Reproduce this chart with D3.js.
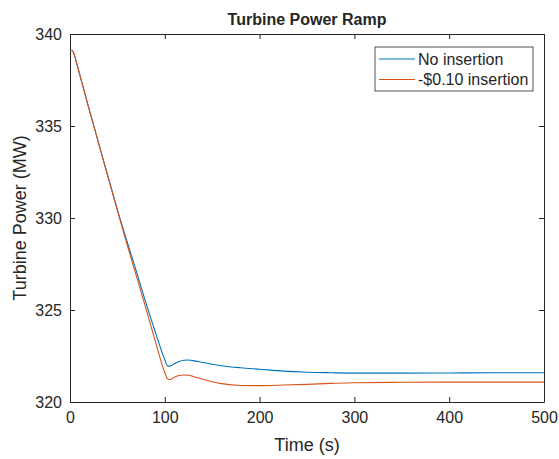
<!DOCTYPE html>
<html>
<head>
<meta charset="utf-8">
<script src="https://cdn.jsdelivr.net/npm/d3@7"></script>
<style>
  body { margin: 0; background: #fff; }
  text { font-family: "Liberation Sans", Arial, sans-serif; fill: #262626; }
</style>
</head>
<body>
<div id="chart"></div>
<script>
// time samples (s)
const time = [0, 2, 4, 6, 10, 20, 30, 40, 50, 60, 70, 80, 90, 100, 103, 106, 110, 115, 120, 125, 130, 140, 150, 160, 180, 200, 225, 250, 275, 300, 350, 400, 450, 500];
// turbine power (MW), no insertion
const noInsertion = [339.08, 339.1, 338.95, 338.6, 337.85, 335.95, 334.1, 332.27, 330.45, 328.75, 327.1, 325.4, 323.8, 322.3, 321.95, 321.96, 322.08, 322.2, 322.27, 322.28, 322.25, 322.15, 322.05, 321.97, 321.86, 321.78, 321.68, 321.62, 321.59, 321.57, 321.57, 321.58, 321.59, 321.59];
// turbine power (MW), -$0.10 insertion
const withInsertion = [339.08, 339.1, 338.95, 338.6, 337.85, 335.95, 334.1, 332.25, 330.4, 328.6, 326.85, 325.1, 323.3, 321.6, 321.25, 321.22, 321.35, 321.44, 321.47, 321.45, 321.39, 321.24, 321.1, 321.0, 320.9, 320.89, 320.92, 320.96, 321.01, 321.05, 321.07, 321.08, 321.08, 321.08];

const xTicks = [0, 100, 200, 300, 400, 500];
const yTicks = [320, 325, 330, 335, 340];
const seriesNames = ["No insertion", "-$0.10 insertion"];
const colors = ["#0072BD", "#D95319"];

const W = 559, H = 459;
const margin = { top: 34, right: 15, bottom: 57, left: 70 };
const width = W - margin.left - margin.right;
const height = H - margin.top - margin.bottom;

const svg = d3.select("#chart").append("svg")
  .attr("width", W).attr("height", H);

const g = svg.append("g")
  .attr("transform", `translate(${margin.left},${margin.top})`);

const x = d3.scaleLinear().domain([0, 500]).range([0, width]);
const y = d3.scaleLinear().domain([320, 340]).range([height, 0]);

// axes, ticks pointing inward like matlab
const axisStyle = sel => {
  sel.select(".domain").attr("stroke", "#262626").attr("stroke-width", 1);
  sel.selectAll(".tick line").attr("stroke", "#262626");
  sel.selectAll(".tick text").style("font-size", "16px").attr("fill", "#262626");
};

g.append("g")
  .attr("transform", `translate(0,${height})`)
  .call(d3.axisBottom(x).tickValues(xTicks).tickSize(-5).tickSizeOuter(0).tickPadding(10))
  .call(axisStyle);

g.append("g")
  .call(d3.axisLeft(y).tickValues(yTicks).tickSize(-5).tickSizeOuter(0).tickPadding(8))
  .call(axisStyle);

// mirrored top and right axes
g.append("g")
  .call(d3.axisTop(x).tickValues(xTicks).tickSize(-5).tickSizeOuter(0).tickFormat(""))
  .call(axisStyle);

g.append("g")
  .attr("transform", `translate(${width},0)`)
  .call(d3.axisRight(y).tickValues(yTicks).tickSize(-5).tickSizeOuter(0).tickFormat(""))
  .call(axisStyle);

// lines
const line = d3.line()
  .x((d, i) => x(time[i]))
  .y(d => y(d))
  .curve(d3.curveMonotoneX);

[noInsertion, withInsertion].forEach((vals, i) => {
  g.append("path")
    .datum(vals)
    .attr("fill", "none")
    .attr("stroke", colors[i])
    .attr("stroke-width", 1.1)
    .attr("d", line);
});

// title and labels
svg.append("text")
  .attr("x", margin.left + width / 2).attr("y", 25)
  .attr("text-anchor", "middle")
  .style("font-size", "16px").style("font-weight", "bold")
  .attr("fill", "#000")
  .text("Turbine Power Ramp");

svg.append("text")
  .attr("x", margin.left + width / 2).attr("y", 451)
  .attr("text-anchor", "middle")
  .style("font-size", "18px")
  .text("Time (s)");

svg.append("text")
  .attr("transform", `translate(26,${margin.top + height / 2}) rotate(-90)`)
  .attr("text-anchor", "middle")
  .style("font-size", "18px")
  .text("Turbine Power (MW)");

// legend
const legend = svg.append("g").attr("transform", "translate(375,47)");
legend.append("rect")
  .attr("width", 158).attr("height", 44)
  .attr("fill", "#fff").attr("stroke", "#262626").attr("stroke-width", 0.8);

seriesNames.forEach((name, i) => {
  const ly = 12 + i * 20.5;
  legend.append("line")
    .attr("x1", 4).attr("x2", 40).attr("y1", ly).attr("y2", ly)
    .attr("stroke", colors[i]).attr("stroke-width", 1.1);
  legend.append("text")
    .attr("x", 43).attr("y", ly + 5.5)
    .style("font-size", "16px")
    .attr("fill", "#000")
    .text(name);
});
</script>
</body>
</html>
